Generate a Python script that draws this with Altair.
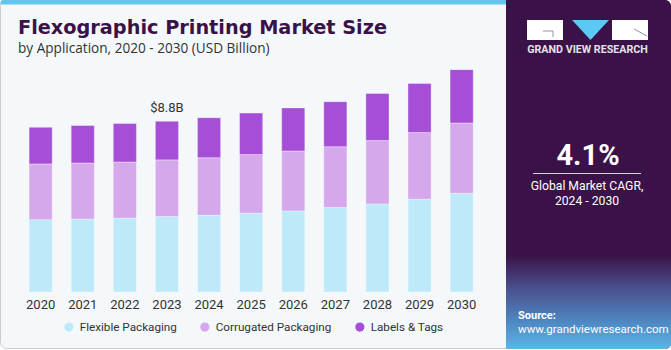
import altair as alt
import pandas as pd

years = ["2020", "2021", "2022", "2023", "2024", "2025", "2026", "2027", "2028", "2029", "2030"]
series = ["Flexible Packaging", "Corrugated Packaging", "Labels & Tags"]
flexible = [3.73, 3.76, 3.81, 3.89, 3.95, 4.06, 4.18, 4.35, 4.54, 4.78, 5.09]
corrugated = [2.87, 2.89, 2.89, 2.92, 2.97, 3.03, 3.09, 3.14, 3.27, 3.44, 3.62]
labels_tags = [1.89, 1.93, 1.98, 1.99, 2.06, 2.13, 2.22, 2.32, 2.42, 2.53, 2.75]
colors = ["#BEE9F8", "#D5A8EC", "#A64FD6"]
highlight_year = "2023"
highlight_text = "$8.8B"
cagr_text = "4.1%"

FONT = "Roboto"
rows = []
for i, y in enumerate(years):
    for j, (name, vals) in enumerate(zip(series, [flexible, corrugated, labels_tags])):
        rows.append({"year": y, "segment": name, "value": vals[i], "idx": j})
df = pd.DataFrame(rows)

tot = pd.DataFrame({"year": years,
                    "total": [a + b + c for a, b, c in zip(flexible, corrugated, labels_tags)]})
tot["label"] = [highlight_text if y == highlight_year else "" for y in years]
tot = tot[tot["year"] == highlight_year]

one = pd.DataFrame({"a": [0]})

def box(x, x2, y, y2, **kw):
    return alt.Chart(one).mark_rect(**kw).encode(
        x=alt.value(x), x2=alt.value(x2), y=alt.value(y), y2=alt.value(y2))

def txt(s, x, y, font=FONT, **kw):
    return alt.Chart(one).mark_text(text=s, font=font, **kw).encode(
        x=alt.value(x), y=alt.value(y))

def line(x, x2, y, y2, **kw):
    return alt.Chart(one).mark_rule(**kw).encode(
        x=alt.value(x), x2=alt.value(x2), y=alt.value(y), y2=alt.value(y2))

card = box(0.5, 670.5, 0.5, 348.5, fill="#F4F8FB", stroke="#C9CDD0", strokeWidth=1, cornerRadius=6)
strip = box(0.5, 506, 0, 4.5, fill="#62C5EE", cornerRadiusTopLeft=6)

xscale = alt.Scale(domain=years, range=[19.6, 482.7], paddingInner=0.45, paddingOuter=0.225)
yscale = alt.Scale(domain=[0, 15.05], nice=False, zero=True)

bars = alt.Chart(df).mark_bar(stroke="#ffffff", strokeOpacity=0.35, strokeWidth=1).encode(
    x=alt.X("year:N", scale=xscale, sort=years,
            axis=alt.Axis(title=None, domain=False, ticks=False, labelAngle=0, zindex=2,
                          labelFont=FONT, labelFontSize=13, labelColor="#333333", labelPadding=6)),
    y=alt.Y("value:Q", stack="zero", scale=yscale, axis=None),
    color=alt.Color("segment:N", sort=series,
                    scale=alt.Scale(domain=series, range=colors),
                    legend=alt.Legend(title=None, orient="none", legendX=63, legendY=321,
                                      direction="horizontal", symbolType="circle", symbolSize=85,
                                      symbolStrokeWidth=0, labelFont=FONT, labelFontSize=11.7,
                                      labelColor="#333333", columnPadding=22, labelOffset=5,
                                      padding=0, zindex=2)),
    order=alt.Order("idx:Q", sort="ascending"),
)

total_label = alt.Chart(tot).mark_text(font=FONT, fontSize=13, color="#333333", dy=-13).encode(
    x=alt.X("year:N", scale=xscale, sort=years),
    y=alt.Y("total:Q", scale=yscale),
    text="label:N",
)

title = txt("Flexographic Printing Market Size", 18, 34, font="DejaVu Sans", align="left",
            baseline="alphabetic", fontSize=19.3, fontWeight="bold", color="#3A1248")
subtitle = txt("by Application, 2020 - 2030 (USD Billion)", 18, 53, font="Open Sans", align="left",
               baseline="alphabetic", fontSize=13.6, color="#333333")

panel = box(506, 671, 0, 349, fill="#3A1248", cornerRadiusTopRight=6, cornerRadiusBottomRight=6)
grad = alt.LinearGradient(gradient="linear", x1=0, x2=0, y1=0, y2=1, stops=[
    alt.GradientStop(color="#3A1248", offset=0),
    alt.GradientStop(color="#4A4F8E", offset=0.35),
    alt.GradientStop(color="#4E86C0", offset=0.7),
    alt.GradientStop(color="#5BB6E6", offset=1),
])
panel_bottom = box(506, 671, 255, 349, fill=grad, cornerRadiusBottomRight=6)

logo1 = box(527, 563, 20, 40, fill="#FFFFFF")
logo3 = box(612, 648, 20, 40, fill="#FFFFFF")
logo_g1 = line(543, 553, 31, 31, color="#9A8FA6", strokeWidth=1)
logo_g2 = line(553, 553, 31, 37, color="#9A8FA6", strokeWidth=1)
logo_r = line(634, 647, 29, 36, color="#9A8FA6", strokeWidth=1)
tri = alt.Chart(one).mark_point(shape="M -1 -0.54 L 1 -0.54 L 0 0.54 Z", filled=True,
                                size=1369, color="#5BC8F5", opacity=1).encode(
    x=alt.value(590.5), y=alt.value(30))
brand = txt("GRAND VIEW RESEARCH", 587.5, 50, align="center", baseline="middle",
            fontSize=10.7, fontWeight="bold", color="#E6E2EA")

cagr = txt(cagr_text, 588, 165, align="center", baseline="alphabetic",
           fontSize=29, fontWeight="bold", color="#FFFFFF")
sep = line(533, 641, 173.5, 173.5, color="#D9D2E0", strokeWidth=1.2)
cagr1 = txt("Global Market CAGR,", 587, 185.5, align="center", baseline="middle",
            fontSize=12.2, color="#FFFFFF")
cagr2 = txt("2024 - 2030", 587, 201, align="center", baseline="middle",
            fontSize=12.2, color="#FFFFFF")
src1 = txt("Source:", 518, 316, align="left", baseline="middle",
           fontSize=11, fontWeight="bold", color="#FFFFFF")
src2 = txt("www.grandviewresearch.com", 518, 329.5, align="left", baseline="middle",
           fontSize=11.5, color="#FFFFFF")

chart = alt.layer(
    card, strip, bars, total_label, title, subtitle,
    panel, panel_bottom, logo1, logo3, logo_g1, logo_g2, logo_r, tri, brand,
    cagr, sep, cagr1, cagr2, src1, src2,
).properties(
    width=671, height=292,
    padding={"left": 0, "top": 0, "right": 0, "bottom": 58},
    autosize=alt.AutoSizeParams(type="none"),
    background="#FFFFFF",
).configure_view(stroke=None)

chart.save("out.html", embed_options={"renderer": "svg", "actions": False})
